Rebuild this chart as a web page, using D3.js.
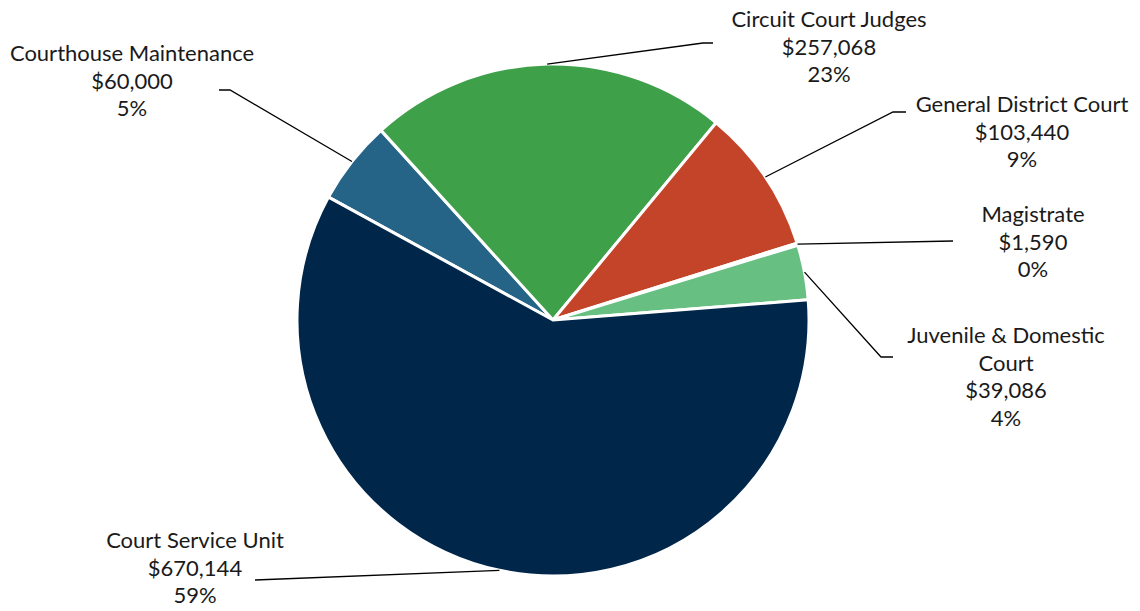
<!DOCTYPE html>
<html lang="en">
<head>
	<meta charset="utf-8">
	<title>Court Budget</title>
	<style type="text/css">
		body {
			margin: 0;
			background: #fff;
		}
		svg text {
			font-family: Lato, "Open Sans", sans-serif;
			font-size: 22px;
			fill: #1a1a1a;
		}
	</style>
</head>
<body>
	<svg width="1140" height="611"></svg>

	<script src="https://cdnjs.cloudflare.com/ajax/libs/d3/7.8.5/d3.min.js"></script>
	<script type="text/javascript">
		// DATA
		var categories = ["Courthouse Maintenance", "Circuit Court Judges", "General District Court",
			"Magistrate", "Juvenile & Domestic Court", "Court Service Unit"];
		var amounts = [60000, 257068, 103440, 1590, 39086, 670144];
		var percentLabels = ["5%", "23%", "9%", "0%", "4%", "59%"];
		var colors = ["#256487", "#3fa04a", "#c4442a", "#68bf82", "#68bf82", "#00264a"];

		// label lines (category name may be split over two lines)
		var nameLines = [["Courthouse Maintenance"], ["Circuit Court Judges"], ["General District Court"],
			["Magistrate"], ["Juvenile & Domestic", "Court"], ["Court Service Unit"]];

		// where each label sits and where its leader line bends
		var labelPos = [
			{ x: 132, y: 61, bx: 230, by: 90, ex: 219 },
			{ x: 829, y: 27, bx: 703, by: 43, ex: 713 },
			{ x: 1022, y: 112, bx: 893, by: 112, ex: 906 },
			{ x: 1033, y: 222, bx: 953, by: 241, ex: 953 },
			{ x: 1006, y: 343, bx: 881, by: 357, ex: 893 },
			{ x: 195, y: 548, bx: 255, by: 580, ex: 255 }
		];

		var cx = 553, cy = 320, radius = 256;
		var lineH = 27.5;
		var startDeg = -61.3;

		var svg = d3.select("svg");
		var g = svg.append("g").attr("transform", "translate(" + cx + "," + cy + ")");

		var pie = d3.pie()
			.sort(null)
			.value(function (d) { return d; })
			.startAngle(startDeg * Math.PI / 180)
			.endAngle(startDeg * Math.PI / 180 + 2 * Math.PI);

		var arcs = pie(amounts);

		var arc = d3.arc().innerRadius(0).outerRadius(radius);
		var edgeArc = d3.arc().innerRadius(radius).outerRadius(radius);

		g.selectAll("path.slice")
			.data(arcs)
			.enter().append("path")
			.attr("class", "slice")
			.attr("d", arc)
			.attr("fill", function (d, i) { return colors[i]; })
			.attr("stroke", "#fff")
			.attr("stroke-width", 3)
			.attr("stroke-linejoin", "round");

		// leader lines
		arcs.forEach(function (d, i) {
			var p = edgeArc.centroid(d);
			var lp = labelPos[i];
			var pts = [[p[0] + cx, p[1] + cy], [lp.bx, lp.by], [lp.ex, lp.by]];
			svg.append("path")
				.attr("d", d3.line()(pts))
				.attr("fill", "none")
				.attr("stroke", "#000")
				.attr("stroke-width", 1.3);
		});

		// labels
		var fmt = d3.format(",");
		categories.forEach(function (c, i) {
			var lines = nameLines[i].concat(["$" + fmt(amounts[i]), percentLabels[i]]);
			var t = svg.append("text")
				.attr("text-anchor", "middle")
				.attr("x", labelPos[i].x)
				.attr("y", labelPos[i].y);
			lines.forEach(function (l, k) {
				t.append("tspan")
					.attr("x", labelPos[i].x)
					.attr("dy", k == 0 ? 0 : lineH)
					.text(l);
			});
		});
	</script>
</body>
</html>
